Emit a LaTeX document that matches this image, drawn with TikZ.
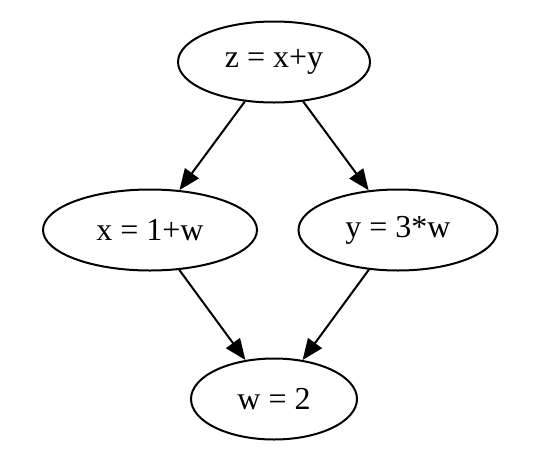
\documentclass[tikz,border=0pt]{standalone}
\usepackage{fontspec}
\setmainfont{Liberation Serif}
\usetikzlibrary{shapes.geometric,arrows.meta}
\begin{document}
\begin{tikzpicture}[x=1pt,y=-1pt]
        % Estilos del grafo
        \tikzset{
            assign/.style={draw, ellipse, line width=2pt, inner sep=0pt,
                minimum height=81pt, font=\fontsize{32}{36}\selectfont},
            dep/.style={line width=2pt, -{Triangle[length=21pt,width=17pt]}}
        }
        \useasboundingbox (0,0) rectangle (536,459);

        % Nodos (asignaciones)
        \node[assign, minimum width=192pt] (z) at (274,62) {z = x+y};
        \node[assign, minimum width=214pt] (x) at (150,230) {x = 1+w};
        \node[assign, minimum width=199pt] (y) at (398,230) {y = 3*w};
        \node[assign, minimum width=166pt] (w) at (274,399) {w = 2};

        % Dependencias
        \draw[dep] (z) -- (x);
        \draw[dep] (z) -- (y);
        \draw[dep] (x) -- (w);
        \draw[dep] (y) -- (w);

    \end{tikzpicture}
\end{document}
